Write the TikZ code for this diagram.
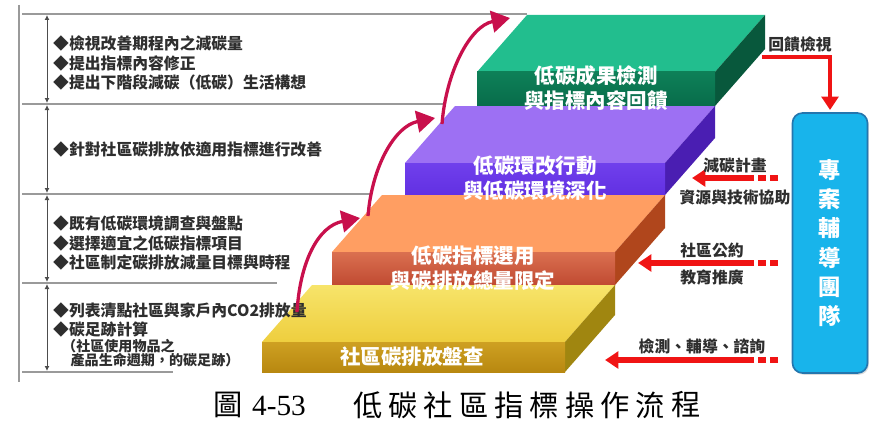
\documentclass[tikz,border=0pt]{standalone}
\usepackage{fontspec}
\setmainfont{Noto Sans CJK TC}
\newfontfamily\capserif{Liberation Serif}
\usetikzlibrary{arrows.meta,shadows}

\definecolor{ink}{HTML}{2E2E2E}
\definecolor{framegray}{HTML}{9A9A9A}
\definecolor{risered}{HTML}{C8104C}
\definecolor{pushred}{HTML}{F01414}
\definecolor{teamblue}{HTML}{18B4EB}
\definecolor{teamedge}{HTML}{2476AE}

\tikzset{
  frame/.style={draw=framegray, line width=1.1pt},
  dimline/.style={draw=ink!85, line width=0.8pt,
    {Latex[length=1.5mm,width=1.5mm]}-{Latex[length=1.5mm,width=1.5mm]}},
  note/.style={anchor=west, align=left, text=ink, inner sep=0pt,
    font=\fontsize{13.5}{16.6}\selectfont\bfseries},
  smallnote/.style={anchor=west, align=left, text=ink, inner sep=0pt,
    font=\fontsize{12}{12.5}\selectfont\bfseries},
  steptext/.style={align=center, text=white, inner sep=0pt,
    font=\fontsize{17.5}{21.5}\selectfont\bfseries},
  rise/.style={draw=risered, line width=2.8pt, -{Triangle[length=5.5mm,width=6.5mm]}},
  push/.style={draw=pushred, line width=4.4pt, -{Triangle[length=4mm,width=5mm]}},
  pushtail/.style={draw=pushred, line width=4.4pt, dash pattern=on 7pt off 3.5pt},
  tag/.style={text=ink, inner sep=0pt, font=\fontsize{13.5}{16}\selectfont\bfseries},
  caption/.style={text=black, inner sep=0pt, font=\fontsize{25}{28}\selectfont},
}

\begin{document}
\begin{tikzpicture}[x=0.03cm, y=-0.03cm]
  \useasboundingbox (0,0) rectangle (873,424);

  % left frame with the four bands
  \draw[frame] (19,5) -- (19,382);
  \draw[frame, line width=1.6pt] (22,14) -- (527,14);
  \draw[frame] (22,104) -- (445,104);
  \draw[frame] (22,194) -- (372,194);
  \draw[frame] (22,283) -- (277,283);
  \draw[frame] (22,372) -- (173,372);
  \foreach \a/\b in {14/104, 104/194, 194/283, 283/372}
    \draw[dimline] (47,\a+1) -- (47,\b-1);

  % step 4 (green)
  \fill[color={rgb,255:red,34;green,190;blue,142}] (477,72) -- (715,72) -- (765,15) -- (527,15) -- cycle;
  \fill[color={rgb,255:red,8;green,88;blue,60}] (715,72) -- (765,15) -- (765,49) -- (715,106) -- cycle;
  \shade[top color={rgb,255:red,14;green,128;blue,88}, bottom color={rgb,255:red,8;green,108;blue,74}] (477,72) rectangle (715,106);

  % step 3 (purple)
  \fill[color={rgb,255:red,157;green,112;blue,243}] (405,163) -- (665,163) -- (715,106) -- (455,106) -- cycle;
  \fill[color={rgb,255:red,74;green,30;blue,178}] (665,163) -- (715,106) -- (715,138) -- (665,195) -- cycle;
  \shade[top color={rgb,255:red,112;green,64;blue,236}, bottom color={rgb,255:red,98;green,48;blue,226}] (405,163) rectangle (665,195);

  % step 2 (orange)
  \fill[color={rgb,255:red,255;green,158;blue,98}] (332,252) -- (615,252) -- (665,195) -- (382,195) -- cycle;
  \fill[color={rgb,255:red,176;green,70;blue,28}] (615,252) -- (665,195) -- (665,228) -- (615,285) -- cycle;
  \shade[top color={rgb,255:red,218;green,112;blue,80}, bottom color={rgb,255:red,192;green,74;blue,50}] (332,252) rectangle (615,285);

  % step 1 (yellow)
  \shade[top color={rgb,255:red,247;green,228;blue,106}, bottom color={rgb,255:red,238;green,206;blue,62}] (262,342) -- (565,342) -- (615,285) -- (312,285) -- cycle;
  \fill[color={rgb,255:red,160;green,134;blue,16}] (565,342) -- (615,285) -- (615,315) -- (565,372) -- cycle;
  \shade[top color={rgb,255:red,206;green,160;blue,34}, bottom color={rgb,255:red,184;green,136;blue,16}] (262,342) rectangle (565,372);

  % step titles
  \node[steptext] (s4) at (596,88) {低碳成果檢測\\與指標內容回饋};
  \node[steptext] (s3) at (535,178) {低碳環改行動\\與低碳環境深化};
  \node[steptext] (s2) at (473,268) {低碳指標選用\\與碳排放總量限定};
  \node[steptext] (s1) at (412,357) {社區碳排放盤查};

  % band notes
  \node[note] (band4) at (53,63) {◆檢視改善期程內之減碳量\\◆提出指標內容修正\\◆提出下階段減碳（低碳）生活構想};
  \node[note] (band3) at (53,149) {◆針對社區碳排放依適用指標進行改善};
  \node[note] (band2) at (53,243) {◆既有低碳環境調查與盤點\\◆選擇適宜之低碳指標項目\\◆社區制定碳排放減量目標與時程};
  \node[note] (band1) at (53,320) {◆列表清點社區與家戶內CO2排放量\\◆碳足跡計算};
  \node[smallnote] (band1b) at (62,353) {（社區使用物品之\\\hspace{0.6em}產品生命週期，的碳足跡）};

  % rising arrows between steps
  \coordinate (r1a) at (297,312);
  \coordinate (r1b) at (360,218);
  \coordinate (r2a) at (368,216);
  \coordinate (r2b) at (435,118);
  \coordinate (r3a) at (442,124);
  \coordinate (r3b) at (510,18);
  \draw[rise] (r1a) .. controls (300,262) and (318,226) .. (r1b);
  \draw[rise] (r2a) .. controls (372,166) and (395,126) .. (r2b);
  \draw[rise] (r3a) .. controls (446,72) and (470,26) .. (r3b);

  % team box
  \node[draw=teamedge, line width=1.4pt, fill=teamblue, rounded corners=0.3cm,
        minimum width=2.25cm, minimum height=7.8cm, align=center,
        text=white, font=\fontsize{19}{25}\selectfont\bfseries,
        drop shadow={shadow xshift=1.2pt, shadow yshift=-1.5pt, fill=gray!55}]
        (team) at (830,243) {專\\案\\輔\\導\\團\\隊};

  % feedback arrow
  \node[tag] (fb) at (800,44) {回饋檢視};
  \coordinate (fba) at (762,57);
  \coordinate (fbb) at (830,110);
  \draw[push, line width=3.6pt] (fba) -| (fbb);

  % support arrows
  \coordinate (k1t) at (778,178);
  \coordinate (k1s) at (754,178);
  \coordinate (k1e) at (692,178);
  \draw[pushtail] (k1t) -- (k1s);
  \draw[push] (k1s) -- (k1e);
  \node[tag] (k1u) at (735,165) {減碳計畫};
  \node[tag] (k1d) at (735,197) {資源與技術協助};

  \coordinate (k2t) at (778,263);
  \coordinate (k2s) at (754,263);
  \coordinate (k2e) at (638,263);
  \draw[pushtail] (k2t) -- (k2s);
  \draw[push] (k2s) -- (k2e);
  \node[tag] (k2u) at (712,250) {社區公約};
  \node[tag] (k2d) at (712,277) {教育推廣};

  \coordinate (k3t) at (778,360);
  \coordinate (k3s) at (754,360);
  \coordinate (k3e) at (605,360);
  \draw[pushtail] (k3t) -- (k3s);
  \draw[push] (k3s) -- (k3e);
  \node[tag] (k3u) at (702,346) {檢測、輔導、諮詢};

  % caption
  \node[caption] (capfig) at (228,405) {圖};
  \node[caption, font=\fontsize{25}{28}\capserif] (capnum) at (279,406) {4-53};
  \foreach \c [count=\i from 0] in {低,碳,社,區,指,標,操,作,流,程}
    \node[caption] (cap\i) at (368+35.3*\i,405) {\c};
\end{tikzpicture}
\end{document}
